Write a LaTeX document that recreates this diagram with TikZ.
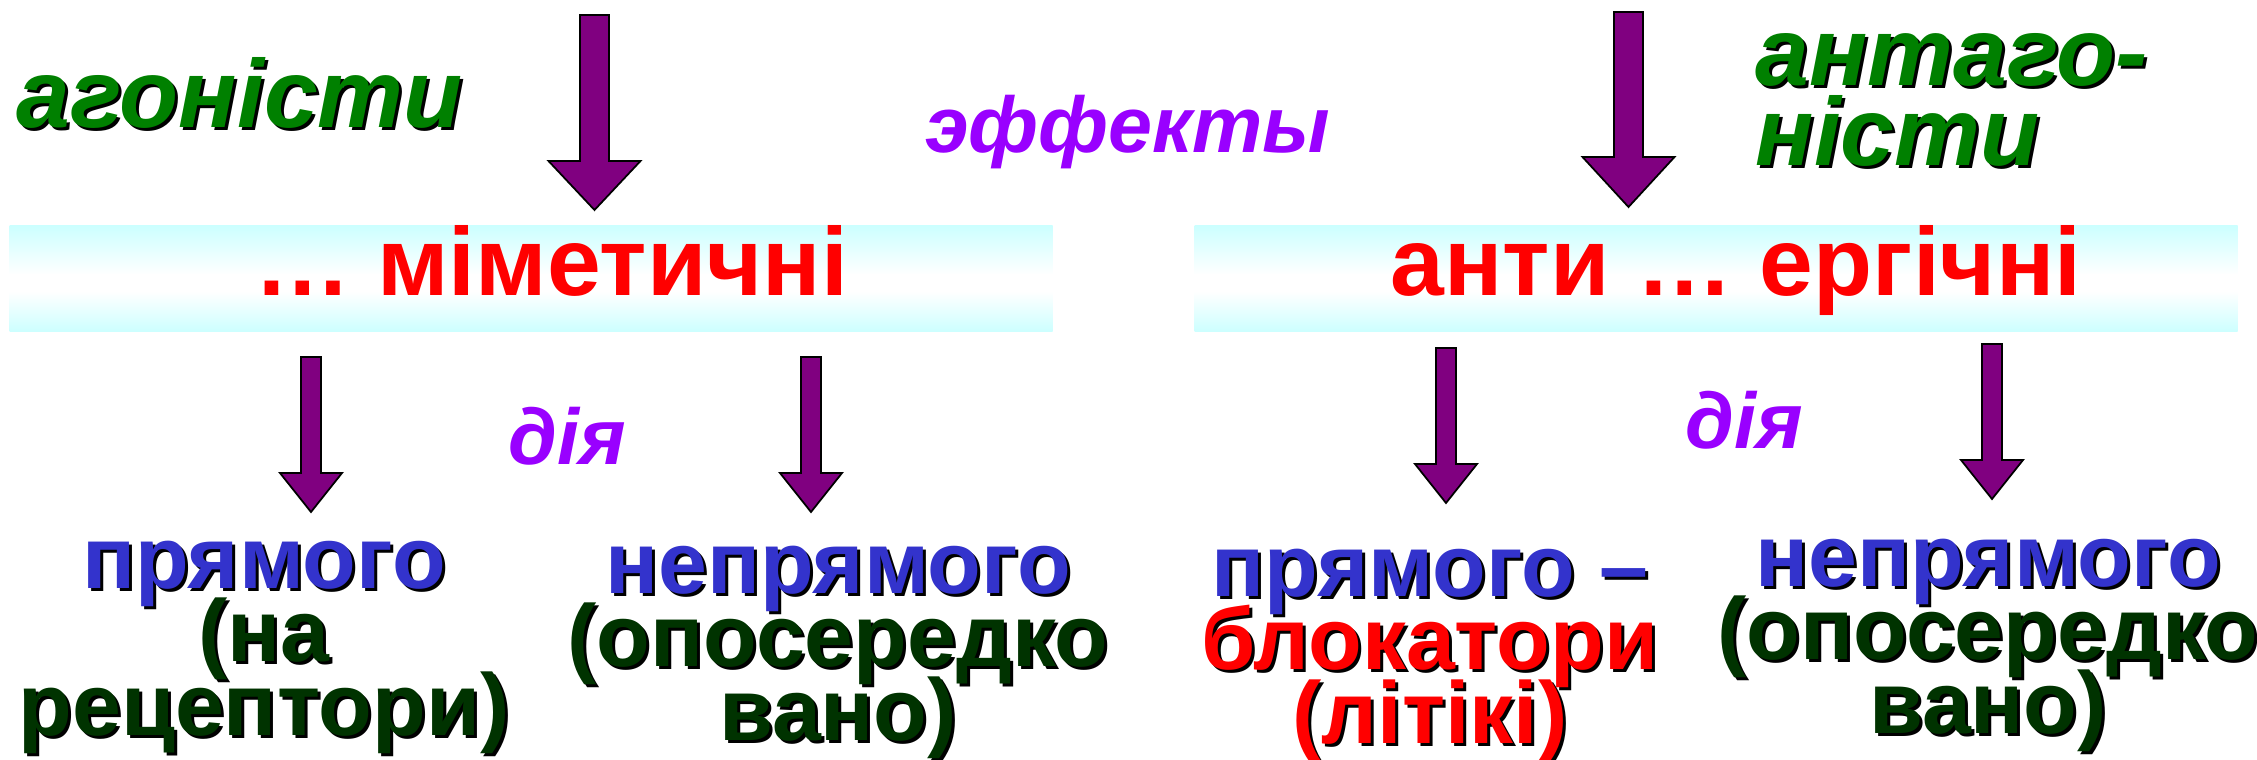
\documentclass[tikz,border=0pt]{standalone}
\usepackage{fontspec}
\setmainfont{Liberation Sans}
\usetikzlibrary{calc}
\definecolor{agreen}{RGB}{0,128,0}
\definecolor{dgreen}{RGB}{0,51,0}
\definecolor{tblue}{RGB}{51,51,204}
\definecolor{tred}{RGB}{255,0,0}
\definecolor{tpurple}{RGB}{153,0,255}
\definecolor{apurple}{RGB}{128,0,128}
\definecolor{boxc}{RGB}{204,255,255}
\pgfdeclareverticalshading{boxshade}{100bp}{color(0bp)=(boxc); color(25bp)=(boxc); color(44bp)=(white); color(52bp)=(white); color(75bp)=(boxc); color(100bp)=(boxc)}
\newcommand\shad[2]{\leavevmode\rlap{\hspace{0.03cm}\raisebox{-0.03cm}{\color{black}#2}}\textcolor{#1}{#2}}
\newcommand\tightls{\setlength{\lineskiplimit}{-100pt}}
\newcommand\blockarr[5]{%
  \draw[arrowbody] ($(#1)+(-#3,0)$) -- ($(#2)+(-#3,#5)$) -- ($(#2)+(-#4,#5)$) -- (#2)
    -- ($(#2)+(#4,#5)$) -- ($(#2)+(#3,#5)$) -- ($(#1)+(#3,0)$) -- cycle;}
\tikzset{
  arrowbody/.style={fill=apurple, draw=black, line width=0.5pt, line join=miter},
  effbox/.style={shading=boxshade, draw=none, minimum height=1.06cm, inner sep=0pt, anchor=north west},
  boxtext/.style={text=tred, font=\bfseries\fontsize{27.5pt}{30pt}\selectfont, anchor=base, inner sep=0pt},
  greenlabel/.style={font={\bfseries\itshape\fontsize{27.5pt}{22.5pt}\selectfont\tightls}, align=left, anchor=base west, inner sep=0pt},
  violetlabel/.style={text=tpurple, font=\bfseries\itshape\fontsize{22.5pt}{26pt}\selectfont, anchor=base west, inner sep=0pt},
  lowtext/.style={font={\bfseries\fontsize{25pt}{20.8pt}\selectfont\tightls}, align=center, anchor=base, inner sep=0pt},
}
\begin{document}
\begin{tikzpicture}
\useasboundingbox (0,0) rectangle (22.57,-7.59);
% boxes
\node[effbox, minimum width=10.43cm] (boxL) at (0.09,-2.25) {};
\node[effbox, minimum width=10.43cm] (boxR) at (11.94,-2.25) {};
\node[boxtext] (mim) at (5.51,-2.95) {… міметичні};
\node[boxtext] (erg) at (17.36,-2.95) {анти … ергічні};
% labels
\node[greenlabel] (agon) at (0.16,-1.27) {\shad{agreen}{агоністи}};
\node[greenlabel] (antag) at (17.55,-1.65) {\shad{agreen}{антаго-}\\\shad{agreen}{ністи}};
\node[violetlabel] (eff) at (9.25,-1.52) {эффекты};
\node[violetlabel] (diaL) at (5.08,-4.64) {дія};
\node[violetlabel] (diaR) at (16.85,-4.48) {дія};
% lower texts
\node[lowtext] (pryamL) at (2.64,-7.35) {\shad{tblue}{прямого}\\\shad{dgreen}{(на}\\\shad{dgreen}{рецептори)}};
\node[lowtext] (nepryamL) at (8.38,-7.40) {\shad{tblue}{непрямого}\\\shad{dgreen}{(опосередко}\\\shad{dgreen}{вано)}};
\node[lowtext] (pryamR) at (14.30,-7.43) {\shad{tblue}{прямого –}\\\shad{tred}{блокатори}\\\shad{tred}{(літікі)}};
\node[lowtext] (nepryamR) at (19.88,-7.33) {\shad{tblue}{непрямого}\\\shad{dgreen}{(опосередко}\\\shad{dgreen}{вано)}};
% arrow coordinates
\coordinate (tLs) at (5.945,-0.15); \coordinate (tLe) at (5.945,-2.10);
\coordinate (tRs) at (16.285,-0.12); \coordinate (tRe) at (16.285,-2.07);
\coordinate (a1s) at (3.11,-3.57); \coordinate (a1e) at (3.11,-5.12);
\coordinate (a2s) at (8.11,-3.57); \coordinate (a2e) at (8.11,-5.12);
\coordinate (a3s) at (14.46,-3.48); \coordinate (a3e) at (14.46,-5.03);
\coordinate (a4s) at (19.92,-3.44); \coordinate (a4e) at (19.92,-4.99);
\blockarr{tLs}{tLe}{0.145}{0.46}{0.49}
\blockarr{tRs}{tRe}{0.145}{0.46}{0.50}
\blockarr{a1s}{a1e}{0.10}{0.31}{0.39}
\blockarr{a2s}{a2e}{0.10}{0.31}{0.39}
\blockarr{a3s}{a3e}{0.10}{0.31}{0.39}
\blockarr{a4s}{a4e}{0.10}{0.31}{0.39}
\end{tikzpicture}
\end{document}
